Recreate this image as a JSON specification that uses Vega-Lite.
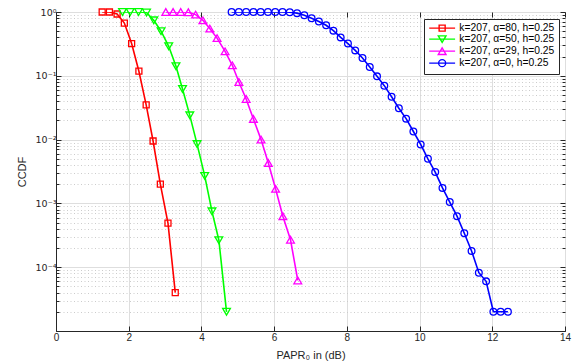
{
  "$schema": "https://vega.github.io/schema/vega-lite/v6.json",
  "width": 509,
  "height": 319,
  "autosize": {"type": "none"},
  "padding": {"left": 56, "top": 12, "right": 9, "bottom": 33},
  "background": "white",
  "config": {
    "font": "Liberation Sans",
    "view": {"stroke": "#262626", "strokeWidth": 1}
  },
  "data": {
    "values": [
      {"s": "k=207, α=80, h=0.25", "x": 1.27, "y": 1},
      {"s": "k=207, α=80, h=0.25", "x": 1.47, "y": 1},
      {"s": "k=207, α=80, h=0.25", "x": 1.68, "y": 0.93},
      {"s": "k=207, α=80, h=0.25", "x": 1.88, "y": 0.67},
      {"s": "k=207, α=80, h=0.25", "x": 2.08, "y": 0.32},
      {"s": "k=207, α=80, h=0.25", "x": 2.28, "y": 0.118},
      {"s": "k=207, α=80, h=0.25", "x": 2.48, "y": 0.035},
      {"s": "k=207, α=80, h=0.25", "x": 2.67, "y": 0.0095},
      {"s": "k=207, α=80, h=0.25", "x": 2.87, "y": 0.002},
      {"s": "k=207, α=80, h=0.25", "x": 3.08, "y": 0.00049},
      {"s": "k=207, α=80, h=0.25", "x": 3.28, "y": 0.00004},
      {"s": "k=207, α=50, h=0.25", "x": 1.83, "y": 1},
      {"s": "k=207, α=50, h=0.25", "x": 2.04, "y": 1},
      {"s": "k=207, α=50, h=0.25", "x": 2.27, "y": 1},
      {"s": "k=207, α=50, h=0.25", "x": 2.49, "y": 0.98},
      {"s": "k=207, α=50, h=0.25", "x": 2.69, "y": 0.74},
      {"s": "k=207, α=50, h=0.25", "x": 2.89, "y": 0.5},
      {"s": "k=207, α=50, h=0.25", "x": 3.1, "y": 0.29},
      {"s": "k=207, α=50, h=0.25", "x": 3.3, "y": 0.141},
      {"s": "k=207, α=50, h=0.25", "x": 3.48, "y": 0.062},
      {"s": "k=207, α=50, h=0.25", "x": 3.68, "y": 0.024},
      {"s": "k=207, α=50, h=0.25", "x": 3.88, "y": 0.0085},
      {"s": "k=207, α=50, h=0.25", "x": 4.09, "y": 0.0027},
      {"s": "k=207, α=50, h=0.25", "x": 4.29, "y": 0.00075},
      {"s": "k=207, α=50, h=0.25", "x": 4.48, "y": 0.000265},
      {"s": "k=207, α=50, h=0.25", "x": 4.69, "y": 0.00002},
      {"s": "k=207, α=29, h=0.25", "x": 3.02, "y": 1},
      {"s": "k=207, α=29, h=0.25", "x": 3.22, "y": 1},
      {"s": "k=207, α=29, h=0.25", "x": 3.43, "y": 1},
      {"s": "k=207, α=29, h=0.25", "x": 3.64, "y": 0.99},
      {"s": "k=207, α=29, h=0.25", "x": 3.84, "y": 0.91},
      {"s": "k=207, α=29, h=0.25", "x": 4.04, "y": 0.74},
      {"s": "k=207, α=29, h=0.25", "x": 4.23, "y": 0.55},
      {"s": "k=207, α=29, h=0.25", "x": 4.43, "y": 0.39},
      {"s": "k=207, α=29, h=0.25", "x": 4.65, "y": 0.242},
      {"s": "k=207, α=29, h=0.25", "x": 4.85, "y": 0.146},
      {"s": "k=207, α=29, h=0.25", "x": 5.03, "y": 0.08},
      {"s": "k=207, α=29, h=0.25", "x": 5.23, "y": 0.0434},
      {"s": "k=207, α=29, h=0.25", "x": 5.43, "y": 0.0211},
      {"s": "k=207, α=29, h=0.25", "x": 5.64, "y": 0.01},
      {"s": "k=207, α=29, h=0.25", "x": 5.84, "y": 0.0043},
      {"s": "k=207, α=29, h=0.25", "x": 6.04, "y": 0.00169},
      {"s": "k=207, α=29, h=0.25", "x": 6.24, "y": 0.00063},
      {"s": "k=207, α=29, h=0.25", "x": 6.45, "y": 0.00027},
      {"s": "k=207, α=29, h=0.25", "x": 6.65, "y": 0.000062},
      {"s": "k=207, α=0, h=0.25", "x": 4.83, "y": 1},
      {"s": "k=207, α=0, h=0.25", "x": 5.03, "y": 1},
      {"s": "k=207, α=0, h=0.25", "x": 5.23, "y": 1},
      {"s": "k=207, α=0, h=0.25", "x": 5.43, "y": 1},
      {"s": "k=207, α=0, h=0.25", "x": 5.63, "y": 1},
      {"s": "k=207, α=0, h=0.25", "x": 5.83, "y": 1},
      {"s": "k=207, α=0, h=0.25", "x": 6.03, "y": 1},
      {"s": "k=207, α=0, h=0.25", "x": 6.23, "y": 1},
      {"s": "k=207, α=0, h=0.25", "x": 6.43, "y": 0.99},
      {"s": "k=207, α=0, h=0.25", "x": 6.63, "y": 0.96},
      {"s": "k=207, α=0, h=0.25", "x": 6.83, "y": 0.89},
      {"s": "k=207, α=0, h=0.25", "x": 7.03, "y": 0.8},
      {"s": "k=207, α=0, h=0.25", "x": 7.23, "y": 0.71},
      {"s": "k=207, α=0, h=0.25", "x": 7.43, "y": 0.62},
      {"s": "k=207, α=0, h=0.25", "x": 7.63, "y": 0.51},
      {"s": "k=207, α=0, h=0.25", "x": 7.83, "y": 0.4},
      {"s": "k=207, α=0, h=0.25", "x": 8.03, "y": 0.32},
      {"s": "k=207, α=0, h=0.25", "x": 8.23, "y": 0.25},
      {"s": "k=207, α=0, h=0.25", "x": 8.43, "y": 0.19},
      {"s": "k=207, α=0, h=0.25", "x": 8.63, "y": 0.137},
      {"s": "k=207, α=0, h=0.25", "x": 8.83, "y": 0.098},
      {"s": "k=207, α=0, h=0.25", "x": 9.03, "y": 0.07},
      {"s": "k=207, α=0, h=0.25", "x": 9.23, "y": 0.047},
      {"s": "k=207, α=0, h=0.25", "x": 9.43, "y": 0.031},
      {"s": "k=207, α=0, h=0.25", "x": 9.63, "y": 0.0213},
      {"s": "k=207, α=0, h=0.25", "x": 9.83, "y": 0.0134},
      {"s": "k=207, α=0, h=0.25", "x": 10.03, "y": 0.0084},
      {"s": "k=207, α=0, h=0.25", "x": 10.23, "y": 0.005},
      {"s": "k=207, α=0, h=0.25", "x": 10.43, "y": 0.0031},
      {"s": "k=207, α=0, h=0.25", "x": 10.63, "y": 0.00175},
      {"s": "k=207, α=0, h=0.25", "x": 10.83, "y": 0.00105},
      {"s": "k=207, α=0, h=0.25", "x": 11.03, "y": 0.00063},
      {"s": "k=207, α=0, h=0.25", "x": 11.23, "y": 0.00034},
      {"s": "k=207, α=0, h=0.25", "x": 11.43, "y": 0.00018},
      {"s": "k=207, α=0, h=0.25", "x": 11.63, "y": 0.000082},
      {"s": "k=207, α=0, h=0.25", "x": 11.83, "y": 0.00006},
      {"s": "k=207, α=0, h=0.25", "x": 12.03, "y": 0.00002},
      {"s": "k=207, α=0, h=0.25", "x": 12.23, "y": 0.00002},
      {"s": "k=207, α=0, h=0.25", "x": 12.43, "y": 0.00002}
    ]
  },
  "resolve": {"axis": {"x": "independent", "y": "independent"}},
  "layer": [
    {
      "mark": {"type": "line", "strokeWidth": 1.6, "clip": true},
      "encoding": {
        "x": {
          "field": "x", "type": "quantitative",
          "scale": {"domain": [0, 14], "nice": false, "zero": false},
          "axis": {
            "orient": "bottom",
            "values": [0, 2, 4, 6, 8, 10, 12, 14],
            "title": "PAPR₀ in (dB)",
            "grid": true, "gridColor": "#dedede", "gridWidth": 1,
            "tickSize": -5, "tickColor": "#262626", "domainColor": "#262626",
            "labelFontSize": 10, "labelColor": "#262626", "labelPadding": 6,
            "labelFlush": false, "labelOverlap": false,
            "titleFontSize": 11, "titleFontWeight": "normal", "titleColor": "#262626",
            "titleBaseline": "middle", "titleY": 24
          }
        },
        "y": {
          "field": "y", "type": "quantitative",
          "scale": {"type": "log", "domain": [0.00001, 1], "nice": false},
          "axis": {
            "orient": "left",
            "values": [1,0.9,0.8,0.7,0.6,0.5,0.4,0.3,0.2,0.1,0.09,0.08,0.07,0.06,0.05,0.04,0.03,0.02,0.01,0.009,0.008,0.007,0.006,0.005,0.004,0.003,0.002,0.001,0.0009,0.0008,0.0007,0.0006,0.0005,0.0004,0.0003,0.0002,0.0001,0.00009,0.00008,0.00007,0.00006,0.00005,0.00004,0.00003,0.00002,0.00001],
            "labelExpr": "datum.value == 1 ? '10⁰' : datum.value == 0.1 ? '10⁻¹' : datum.value == 0.01 ? '10⁻²' : datum.value == 0.001 ? '10⁻³' : datum.value == 0.0001 ? '10⁻⁴' : ''",
            "grid": true,
            "gridColor": {"condition": {"test": "indexof([1,0.1,0.01,0.001,0.0001,0.00001], datum.value) >= 0", "value": "#dedede"}, "value": "#cccccc"},
            "gridDash": {"condition": {"test": "indexof([1,0.1,0.01,0.001,0.0001,0.00001], datum.value) >= 0", "value": []}, "value": [1, 2.5]},
            "tickSize": {"condition": {"test": "indexof([1,0.1,0.01,0.001,0.0001,0.00001], datum.value) >= 0", "value": -5}, "value": -3},
            "tickColor": "#262626", "domainColor": "#262626",
            "labelFont": "DejaVu Sans", "labelFontSize": 9.5, "labelColor": "#262626", "labelPadding": 5,
            "labelOverlap": false, "labelFlush": false,
            "title": "CCDF", "titleFontSize": 11, "titleFontWeight": "normal", "titleColor": "#262626",
            "titleBaseline": "middle", "titleX": -34, "titleY": 159.5
          }
        },
        "color": {
          "field": "s", "type": "nominal",
          "scale": {
            "domain": ["k=207, α=80, h=0.25", "k=207, α=50, h=0.25", "k=207, α=29, h=0.25", "k=207, α=0, h=0.25"],
            "range": ["#ff0000", "#00ff00", "#ff00ff", "#0000ff"]
          }
        }
      }
    },
    {
      "transform": [{"filter": "datum.s == 'k=207, α=80, h=0.25'"}],
      "mark": {"type": "point", "shape": "square", "filled": false, "color": "#ff0000", "strokeWidth": 1.3, "size": 36, "opacity": 1},
      "encoding": {
        "x": {"field": "x", "type": "quantitative", "axis": null},
        "y": {"field": "y", "type": "quantitative", "axis": null}
      }
    },
    {
      "transform": [{"filter": "datum.s == 'k=207, α=50, h=0.25'"}],
      "mark": {"type": "point", "shape": "triangle-down", "filled": false, "color": "#00ff00", "strokeWidth": 1.3, "size": 60, "opacity": 1},
      "encoding": {
        "x": {"field": "x", "type": "quantitative", "axis": null},
        "y": {"field": "y", "type": "quantitative", "axis": null}
      }
    },
    {
      "transform": [{"filter": "datum.s == 'k=207, α=29, h=0.25'"}],
      "mark": {"type": "point", "shape": "triangle-up", "filled": false, "color": "#ff00ff", "strokeWidth": 1.3, "size": 60, "opacity": 1},
      "encoding": {
        "x": {"field": "x", "type": "quantitative", "axis": null},
        "y": {"field": "y", "type": "quantitative", "axis": null}
      }
    },
    {
      "transform": [{"filter": "datum.s == 'k=207, α=0, h=0.25'"}],
      "mark": {"type": "point", "shape": "circle", "filled": false, "color": "#0000ff", "strokeWidth": 1.3, "size": 45, "opacity": 1},
      "encoding": {
        "x": {"field": "x", "type": "quantitative", "axis": null},
        "y": {"field": "y", "type": "quantitative", "axis": null}
      }
    },
    {
      "mark": {"type": "point", "filled": false, "strokeWidth": 1.4, "opacity": 0},
      "encoding": {
        "x": {
          "field": "x", "type": "quantitative",
          "axis": {"orient": "top", "values": [0, 2, 4, 6, 8, 10, 12, 14], "labels": false, "grid": false, "domain": false, "tickSize": -5, "tickColor": "#262626", "title": null}
        },
        "y": {
          "field": "y", "type": "quantitative",
          "axis": {
            "orient": "right",
            "values": [1,0.9,0.8,0.7,0.6,0.5,0.4,0.3,0.2,0.1,0.09,0.08,0.07,0.06,0.05,0.04,0.03,0.02,0.01,0.009,0.008,0.007,0.006,0.005,0.004,0.003,0.002,0.001,0.0009,0.0008,0.0007,0.0006,0.0005,0.0004,0.0003,0.0002,0.0001,0.00009,0.00008,0.00007,0.00006,0.00005,0.00004,0.00003,0.00002,0.00001],
            "labels": false, "grid": false, "domain": false, "title": null, "tickColor": "#262626",
            "tickSize": {"condition": {"test": "indexof([1,0.1,0.01,0.001,0.0001,0.00001], datum.value) >= 0", "value": -5}, "value": -3}
          }
        },
        "color": {
          "field": "s", "type": "nominal",
          "legend": {
            "orient": "none", "legendX": 368, "legendY": 7, "direction": "vertical", "title": null,
            "strokeColor": "#262626", "fillColor": "white", "padding": 4,
            "labelFontSize": 10.3, "labelColor": "#000000", "labelLimit": 200,
            "symbolSize": 49, "symbolStrokeWidth": 1.4, "symbolOffset": 9, "labelOffset": 12,
            "symbolOpacity": 1, "symbolFillColor": "transparent", "rowPadding": -2.3
          }
        },
        "shape": {
          "field": "s", "type": "nominal",
          "scale": {
            "domain": ["k=207, α=80, h=0.25", "k=207, α=50, h=0.25", "k=207, α=29, h=0.25", "k=207, α=0, h=0.25"],
            "range": [
              "M-3.7,0H3.7M-0.86,-0.86H0.86V0.86H-0.86Z",
              "M-3.7,0H3.7M0,0.95L-1.1,-0.95L1.1,-0.95Z",
              "M-3.7,0H3.7M0,-0.95L-1.1,0.95L1.1,0.95Z",
              "M-3.7,0H3.7M-1,0A1,1 0 1,0 1,0A1,1 0 1,0 -1,0"
            ]
          },
          "legend": {
            "orient": "none", "legendX": 368, "legendY": 7, "direction": "vertical", "title": null,
            "strokeColor": "#262626", "fillColor": "white", "padding": 4,
            "labelFontSize": 10.3, "labelColor": "#000000", "labelLimit": 200,
            "symbolSize": 49, "symbolStrokeWidth": 1.4, "symbolOffset": 9, "labelOffset": 12,
            "symbolOpacity": 1, "symbolFillColor": "transparent", "rowPadding": -2.3
          }
        }
      }
    }
  ]
}
